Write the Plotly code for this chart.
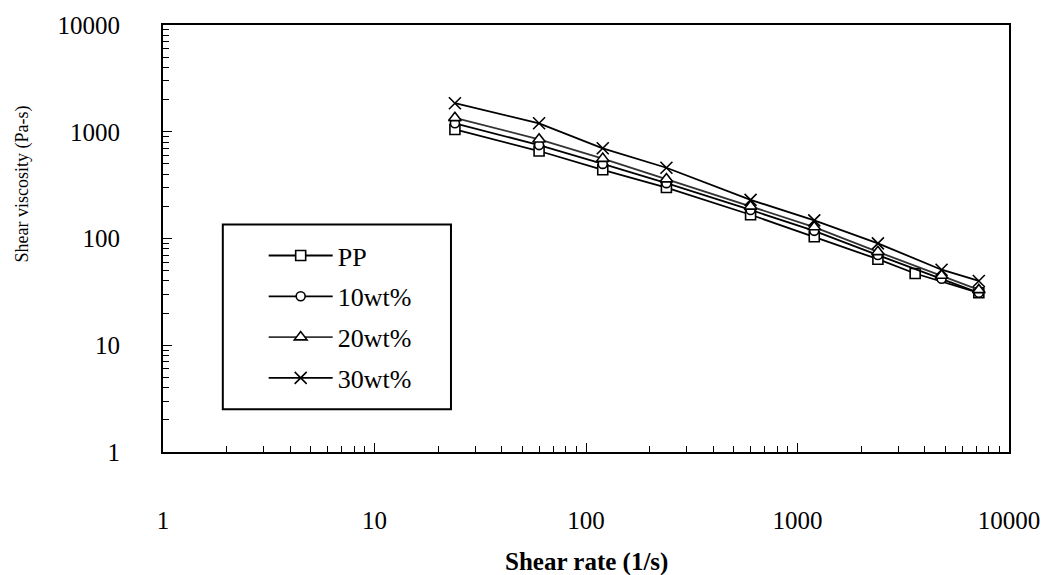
import plotly.graph_objects as go

# Shear rate (1/s) and shear viscosity (Pa-s) for PP and its composites
rate_pp = [24, 60, 120, 240, 600, 1200, 2400, 3600, 7200]
visc_pp = [1050, 660, 440, 300, 167, 104, 64, 47, 31]

rate_10 = [24, 60, 120, 240, 600, 1200, 2400, 4800, 7200]
visc_10 = [1200, 750, 500, 330, 185, 118, 70, 42, 31]

rate_20 = [24, 60, 120, 240, 600, 1200, 2400, 4800, 7200]
visc_20 = [1350, 850, 560, 360, 200, 128, 75, 45, 33]

rate_30 = [24, 60, 120, 240, 600, 1200, 2400, 4800, 7200]
visc_30 = [1850, 1200, 700, 460, 230, 148, 90, 51, 40]

series_names = ["PP", "10wt%", "20wt%", "30wt%"]

x_ticks = [1, 10, 100, 1000, 10000]
y_ticks = [1, 10, 100, 1000, 10000]

FONT = "Liberation Serif"

fig = go.Figure()

styles = [
    (rate_pp, visc_pp, "square", 10, "black"),
    (rate_10, visc_10, "circle", 9, "black"),
    (rate_20, visc_20, "triangle-up", 11, "#333333"),
    (rate_30, visc_30, "x-thin", 12, "black"),
]

for i, (name, (xs, ys, sym, size, col)) in enumerate(zip(series_names, styles)):
    fig.add_trace(go.Scatter(
        x=xs, y=ys, name=name, mode="lines+markers",
        legendgroup=f"g{i}",
        line=dict(color=col, width=1.8),
        marker=dict(symbol=sym, size=size, color="white",
                    line=dict(color="black", width=1.6)),
    ))

# legend frame
fig.add_shape(type="rect", xref="paper", yref="paper",
              x0=0.0707, x1=0.3404, y0=0.100, y1=0.5326,
              line=dict(color="black", width=2), fillcolor="white", layer="below")

fig.update_layout(
    width=1052, height=575,
    margin=dict(l=163, r=40, t=22, b=123),
    paper_bgcolor="white", plot_bgcolor="white",
    font=dict(family=FONT, size=22, color="black"),
    showlegend=True,
    legend=dict(x=0.119, y=0.515, xanchor="left", yanchor="top",
                bgcolor="rgba(0,0,0,0)", borderwidth=0,
                font=dict(family=FONT, size=26),
                itemwidth=64,
                tracegroupgap=4),
    xaxis=dict(type="log", range=[0, 4], tickvals=x_ticks,
               ticktext=[str(v) for v in x_ticks],
               ticks="inside", ticklen=9, tickwidth=1.2, tickcolor="black",
               minor=dict(ticks="inside", ticklen=6, tickwidth=1, tickcolor="black", dtick="D1"),
               showline=True, linecolor="black", linewidth=2, mirror=True,
               showgrid=False, zeroline=False,
               ticklabelstandoff=45,
               tickfont=dict(family=FONT, size=25)),
    yaxis=dict(type="log", range=[0, 4], tickvals=y_ticks,
               ticktext=[str(v) for v in y_ticks],
               ticks="inside", ticklen=9, tickwidth=1.2, tickcolor="black",
               minor=dict(ticks="inside", ticklen=6, tickwidth=1, tickcolor="black", dtick="D1"),
               showline=True, linecolor="black", linewidth=2, mirror=True,
               showgrid=False, zeroline=False,
               ticklabelstandoff=36,
               tickfont=dict(family=FONT, size=25)),
    annotations=[
        dict(text="<b>Shear rate (1/s)</b>", xref="paper", yref="paper",
             x=0.5, y=-0.258, xanchor="center", yanchor="middle",
             showarrow=False, font=dict(family=FONT, size=25)),
        dict(text="Shear viscosity (Pa-s)", xref="paper", yref="paper",
             x=-0.166, y=0.628, xanchor="center", yanchor="middle", textangle=-90,
             showarrow=False, font=dict(family=FONT, size=18)),
    ],
)

fig.write_html("out.html")
